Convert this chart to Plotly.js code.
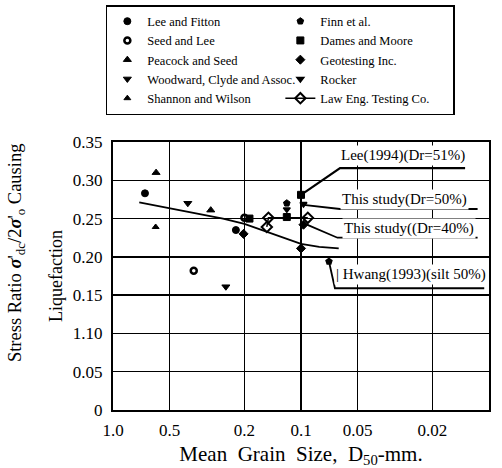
<!DOCTYPE html>
<html><head><meta charset="utf-8">
<script src="https://cdn.plot.ly/plotly-3.0.1.min.js"></script>
<style>html,body{margin:0;padding:0;background:#fff}#chart{width:502px;height:468px}</style>
</head><body><div id="chart"></div>
<script>
// ---- data ----
const leeFittonX = [0.676, 0.222], leeFittonY = [0.283, 0.235];
const finnX = [0.119], finnY = [0.270];
const seedLeeX = [0.372, 0.200], seedLeeY = [0.182, 0.251];
const damesX = [0.119, 0.188], damesY = [0.252, 0.250];
const peacockX = [0.590, 0.302], peacockY = [0.310, 0.261];
const geoX = [0.202, 0.097, 0.100], geoY = [0.230, 0.242, 0.211];
const woodwardX = [0.400, 0.251], woodwardY = [0.270, 0.161];
const rockerX = [0.097, 0.119], rockerY = [0.269, 0.262];
const shannonX = [0.593], shannonY = [0.239];
const lawX = [0.152, 0.149, 0.092], lawY = [0.239, 0.251, 0.251];

const lee1994X = [0.100], lee1994Y = [0.281];
const hwangX = [0.071], hwangY = [0.194];

const trendX = [0.725, 0.26, 0.20, 0.114, 0.10, 0.08, 0.063];
const trendY = [0.271, 0.250, 0.243, 0.222, 0.217, 0.213, 0.211];

// leader lines for the labels
const leeLeadX = [0.100, 0.062, 0.0134], leeLeadY = [0.281, 0.316, 0.316];
const s50LeadX = [0.097, 0.062, 0.0115], s50LeadY = [0.268, 0.2625, 0.2625];
const s40LeadX = [0.093, 0.064, 0.0115], s40LeadY = [0.242, 0.225, 0.225];
const hwLeadX = [0.071, 0.066, 0.0106], hwLeadY = [0.194, 0.159, 0.159];

const xTicks = [1.0, 0.5, 0.2, 0.1, 0.05, 0.02, 0.01];
const xTickText = ["1.0", "0.5", "0.2", "0.1", "0.05", "0.02", "0.01"];
const yTicks = [0, 0.05, 0.10, 0.15, 0.20, 0.25, 0.30, 0.35];
const yTickText = ["0", "0.05", "1.10", "0.15", "0.20", "0.25", "0.30", "0.35"];

const labels = [
  {text: "Lee(1994)(Dr=51%)", x: 0.771, y: 0.948},
  {text: "This study(Dr=50%)", x: 0.774, y: 0.784},
  {text: "This study((Dr=40%)", x: 0.787, y: 0.679},
  {text: "| Hwang(1993)(silt 50%)", x: 0.793, y: 0.504}
];

const K = '#000';
function pts(name, x, y, symbol, extra) {
  return Object.assign({
    type: 'scatter', mode: 'markers', name: name, x: x, y: y,
    marker: {symbol: symbol, size: 7, color: K, line: {color: K, width: 1}},
    hoverinfo: 'x+y+name'
  }, extra || {});
}
function lead(x, y, w) {
  return {type: 'scatter', mode: 'lines', x: x, y: y, showlegend: false,
    line: {color: K, width: w || 1.8}, hoverinfo: 'skip'};
}

const traces = [
  lead(trendX, trendY, 1.8),
  lead(leeLeadX, leeLeadY, 2.2),
  lead(s50LeadX, s50LeadY, 1.8),
  lead(s40LeadX, s40LeadY, 1.8),
  lead(hwLeadX, hwLeadY, 1.8),
  // legend order is row-wise (two columns)
  pts("Lee and Fitton", leeFittonX, leeFittonY, 'circle'),
  pts("Finn et al.", finnX, finnY, 'pentagon'),
  pts("Seed and Lee", seedLeeX, seedLeeY, 'circle-open', {marker: {symbol: 'circle-open', size: 6, color: K, line: {color: K, width: 2.5}}}),
  pts("Dames and Moore", damesX, damesY, 'square'),
  pts("Peacock and Seed", peacockX, peacockY, 'triangle-up'),
  pts("Geotesting Inc.", geoX, geoY, 'diamond'),
  pts("Woodward, Clyde and Assoc.", woodwardX, woodwardY, 'triangle-down'),
  pts("Rocker", rockerX, rockerY, 'triangle-down', {marker: {symbol: 'triangle-down', size: 6, color: K, line: {color: K, width: 1.5}}}),
  pts("Shannon and Wilson", shannonX, shannonY, 'triangle-up', {marker: {symbol: 'triangle-up', size: 6, color: K, line: {color: K, width: 1}}}),
  pts("Law Eng. Testing Co.", lawX, lawY, 'diamond-open', {mode: 'lines+markers', line: {color: K, width: 1.5},
      marker: {symbol: 'diamond-open', size: 8, color: K, line: {color: K, width: 2}}}),
  pts("Lee (1994)", lee1994X, lee1994Y, 'square', {showlegend: false}),
  pts("Hwang (1993)", hwangX, hwangY, 'pentagon', {showlegend: false, marker: {symbol: 'pentagon', size: 8, color: K}})
];

const annotations = labels.map(l => ({
  text: l.text, x: l.x, y: l.y, xref: 'paper', yref: 'paper', showarrow: false,
  xanchor: 'center', yanchor: 'middle', bgcolor: '#fff', borderpad: 1,
  font: {family: 'Liberation Serif', size: 15, color: K}
}));
annotations.push({
  text: "Stress Ratio <b><i>σ</i></b>'<sub>dc</sub>/2<b><i>σ</i></b>'<sub>o</sub> Causing",
  x: -0.255, y: 0.586, xref: 'paper', yref: 'paper', showarrow: false,
  textangle: -90, xanchor: 'center', yanchor: 'middle',
  font: {family: 'Liberation Serif', size: 18.5, color: K}
});

const layout = {
  width: 502, height: 468,
  margin: {l: 113, r: 13, t: 142, b: 58, autoexpand: false},
  paper_bgcolor: '#fff', plot_bgcolor: '#fff',
  font: {family: 'Liberation Serif', color: K, size: 16},
  showlegend: true,
  legend: {
    orientation: 'h', x: -0.019, xanchor: 'left', y: 1.511, yanchor: 'top',
    bordercolor: K, borderwidth: 1.5, bgcolor: '#fff',
    font: {family: 'Liberation Serif', size: 12.5, color: K},
    entrywidth: 128, itemwidth: 30, traceorder: 'normal'
  },
  xaxis: {
    type: 'log', range: [0, -2],
    tickvals: xTicks, ticktext: xTickText, tickmode: 'array',
    showgrid: true, gridcolor: K, gridwidth: 1.5,
    showline: true, linecolor: K, linewidth: 2, mirror: true,
    ticks: '', ticklabelstandoff: 4, zeroline: false,
    tickfont: {family: 'Liberation Serif', size: 17, color: K},
    title: {text: "Mean  Grain  Size,  D<sub>50</sub>-mm.", standoff: 13,
      font: {family: 'Liberation Serif', size: 21, color: K}}
  },
  yaxis: {
    range: [0, 0.35], tickvals: yTicks, ticktext: yTickText, tickmode: 'array',
    showgrid: true, gridcolor: K, gridwidth: 1.5,
    showline: true, linecolor: K, linewidth: 2, mirror: true,
    ticks: '', ticklabelstandoff: 5, zeroline: false,
    tickfont: {family: 'Liberation Serif', size: 17, color: K},
    title: {text: "Liquefaction", standoff: 6,
      font: {family: 'Liberation Serif', size: 18, color: K}}
  },
  annotations: annotations
};

Plotly.newPlot('chart', traces, layout, {displayModeBar: false, staticPlot: true});
</script>
</body></html>
